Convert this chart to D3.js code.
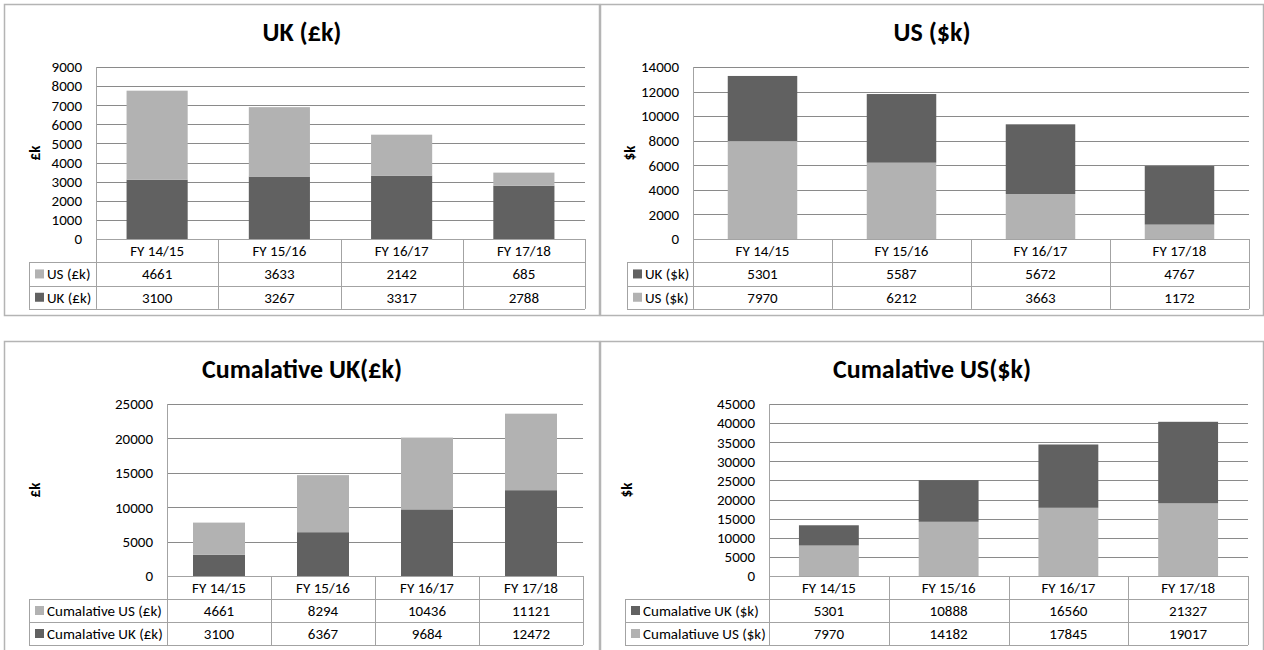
<!DOCTYPE html>
<html>
<head>
<meta charset="utf-8">
<script src="https://cdn.jsdelivr.net/npm/d3@7"></script>
<style>
  body { margin: 0; background: #fff; }
  svg { display: block; font-family: Carlito, Lato, "Open Sans", sans-serif; }
</style>
</head>
<body>
<svg width="1264" height="650"></svg>
<script>
// categories shared by all four charts
const years = ['FY 14/15', 'FY 15/16', 'FY 16/17', 'FY 17/18'];

// UK (£k)
const ukGbp = [3100, 3267, 3317, 2788];
const usGbp = [4661, 3633, 2142, 685];
// US ($k)
const usUsd = [7970, 6212, 3663, 1172];
const ukUsd = [5301, 5587, 5672, 4767];
// cumulative £k
const cumUkGbp = [3100, 6367, 9684, 12472];
const cumUsGbp = [4661, 8294, 10436, 11121];
// cumulative $k
const cumUsUsd = [7970, 14182, 17845, 19017];
const cumUkUsd = [5301, 10888, 16560, 21327];

const dark = '#616161';
const light = '#b2b2b2';
const fs = 15;

const svg = d3.select('svg');

// series listed bottom of stack first; the table shows them reversed (like excel)
const charts = [
  {title: 'UK (£k)', unit: '£k', ticks: d3.range(0, 9001, 1000),
   series: [{name: 'UK (£k)', values: ukGbp, color: dark}, {name: 'US (£k)', values: usGbp, color: light}],
   box: [4, 4, 600, 316], plot: [96, 67, 585, 239], tableLeft: 29, rowH: 23.3, labelX: 35},
  {title: 'US ($k)', unit: '$k', ticks: d3.range(0, 14001, 2000),
   series: [{name: 'US ($k)', values: usUsd, color: light}, {name: 'UK ($k)', values: ukUsd, color: dark}],
   box: [600, 4, 1264, 316], plot: [693, 67, 1249, 239], tableLeft: 627, rowH: 23.3, labelX: 630},
  {title: 'Cumalative UK(£k)', unit: '£k', ticks: d3.range(0, 25001, 5000),
   series: [{name: 'Cumalative UK (£k)', values: cumUkGbp, color: dark}, {name: 'Cumalative US (£k)', values: cumUsGbp, color: light}],
   box: [4, 341, 600, 700], plot: [167, 404, 583, 576], tableLeft: 29, rowH: 23, labelX: 35},
  {title: 'Cumalative US($k)', unit: '$k', ticks: d3.range(0, 45001, 5000),
   series: [{name: 'Cumalatiuve US ($k)', values: cumUsUsd, color: light}, {name: 'Cumalative UK ($k)', values: cumUkUsd, color: dark}],
   box: [600, 341, 1264, 700], plot: [769, 404, 1248, 576], tableLeft: 625, rowH: 23, labelX: 627},
];

charts.forEach(drawChart);

function drawChart(c) {
  const [bx0, by0, bx1, by1] = c.box;
  const [px0, py0, px1, py1] = c.plot;
  const g = svg.append('g');

  // outer frame
  g.append('rect')
    .attr('x', bx0 + 0.5).attr('y', by0 + 0.5)
    .attr('width', bx1 - bx0 - 1).attr('height', by1 - by0 - 1)
    .attr('fill', '#fff').attr('stroke', '#b4b4b4').attr('stroke-width', 1.5);

  g.append('text')
    .attr('x', (bx0 + bx1) / 2).attr('y', by0 + 37)
    .attr('text-anchor', 'middle')
    .attr('font-size', 26).attr('font-weight', 'bold')
    .text(c.title);

  const y = d3.scaleLinear()
    .domain([0, d3.max(c.ticks)])
    .range([py1, py0]);

  const cols = d3.scaleBand().domain(years).range([px0, px1]);
  const x = d3.scaleBand().domain(years).range([px0, px1])
    .paddingInner(0.5).paddingOuter(0.25);

  // gridlines
  g.append('g')
    .selectAll('line')
    .data(c.ticks)
    .join('line')
    .attr('x1', px0).attr('x2', px1)
    .attr('y1', d => Math.round(y(d)) + 0.5).attr('y2', d => Math.round(y(d)) + 0.5)
    .attr('stroke', '#8a8a8a');

  // y tick labels
  const yAxis = g.append('g')
    .attr('transform', `translate(${px0},0)`)
    .call(d3.axisLeft(y).tickValues(c.ticks).tickSize(0).tickPadding(14).tickFormat(d3.format('d')));
  yAxis.select('.domain').remove();
  yAxis.selectAll('text').attr('font-size', fs).attr('fill', '#000')
    .attr('font-family', 'Carlito, Lato, "Open Sans", sans-serif');

  g.append('text')
    .attr('transform', `translate(${c.labelX},${(py0 + py1) / 2}) rotate(-90)`)
    .attr('text-anchor', 'middle').attr('dy', '0.35em')
    .attr('font-size', fs).attr('font-weight', 'bold')
    .text(c.unit);

  // stacked bars
  const table = years.map((yr, i) => {
    const row = {year: yr};
    c.series.forEach(s => { row[s.name] = s.values[i]; });
    return row;
  });
  const stacked = d3.stack().keys(c.series.map(s => s.name))(table);

  g.append('g')
    .selectAll('g')
    .data(stacked)
    .join('g')
    .attr('fill', (d, i) => c.series[i].color)
    .selectAll('rect')
    .data(d => d)
    .join('rect')
    .attr('x', d => x(d.data.year))
    .attr('width', x.bandwidth())
    .attr('y', d => y(d[1]))
    .attr('height', d => y(d[0]) - y(d[1]));

  // data table under the plot
  const rows = c.series.slice().reverse();
  const rh = c.rowH;
  const tb = py1 + rh * 3;
  const lineColor = '#a3a3a3';
  const t = g.append('g').attr('stroke', lineColor).attr('stroke-width', 1);

  // value axis line
  t.append('line').attr('x1', px0 + 0.5).attr('x2', px0 + 0.5).attr('y1', py0).attr('y2', tb);
  // horizontal lines
  t.append('line').attr('x1', px0).attr('x2', px1).attr('y1', py1 + 0.5).attr('y2', py1 + 0.5);
  [1, 2, 3].forEach(k => {
    const yy = Math.round(py1 + rh * k) + 0.5;
    t.append('line').attr('x1', c.tableLeft).attr('x2', px1).attr('y1', yy).attr('y2', yy);
  });
  // vertical lines
  t.append('line').attr('x1', c.tableLeft + 0.5).attr('x2', c.tableLeft + 0.5)
    .attr('y1', py1 + rh).attr('y2', tb);
  t.selectAll('.col')
    .data(years)
    .join('line')
    .attr('x1', d => Math.round(cols(d) + cols.bandwidth()) + 0.5)
    .attr('x2', d => Math.round(cols(d) + cols.bandwidth()) + 0.5)
    .attr('y1', py1).attr('y2', tb);

  g.append('g')
    .selectAll('text')
    .data(years)
    .join('text')
    .attr('x', d => cols(d) + cols.bandwidth() / 2)
    .attr('y', py1 + rh / 2)
    .attr('dy', '0.35em').attr('text-anchor', 'middle').attr('font-size', fs)
    .text(d => d);

  rows.forEach((s, r) => {
    const cy = py1 + rh * (r + 1) + rh / 2;
    g.append('rect')
      .attr('x', c.tableLeft + 6).attr('y', cy - 4.5)
      .attr('width', 9).attr('height', 9)
      .attr('fill', s.color);
    g.append('text')
      .attr('x', c.tableLeft + 18).attr('y', cy)
      .attr('dy', '0.35em').attr('font-size', fs)
      .text(s.name);
    g.append('g')
      .selectAll('text')
      .data(s.values)
      .join('text')
      .attr('x', (d, i) => cols(years[i]) + cols.bandwidth() / 2)
      .attr('y', cy)
      .attr('dy', '0.35em').attr('text-anchor', 'middle').attr('font-size', fs)
      .text(d => d);
  });
}
</script>
</body>
</html>
